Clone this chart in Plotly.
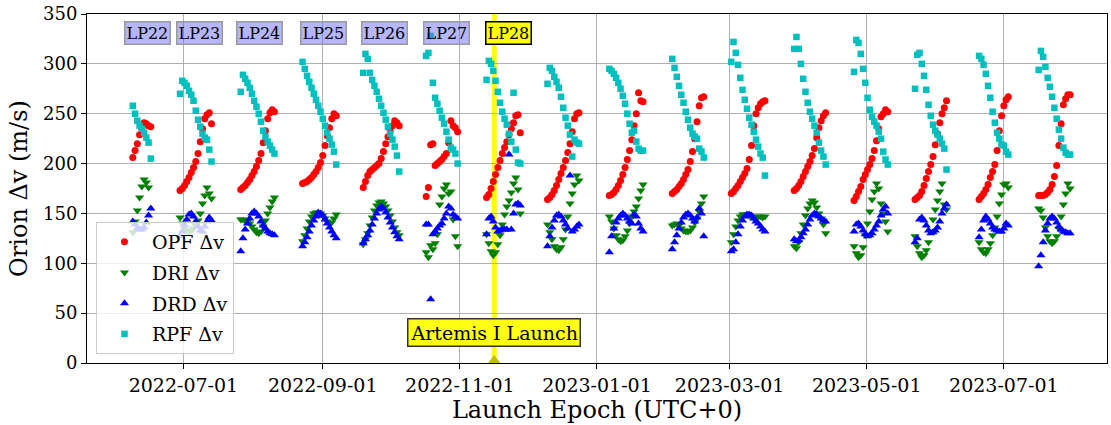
import pandas as pd
import plotly.graph_objects as go

# ---------------- data ----------------
# start epoch of each launch-period cluster (one epoch per day)
cluster_start = [
    "2022-06-08 12:00", "2022-06-29 12:00", "2022-07-26 12:00", "2022-08-23 00:00",
    "2022-09-19 00:00", "2022-10-17 00:00", "2022-11-12 21:00", "2022-12-10 00:00",
    "2023-01-06 12:00", "2023-02-03 12:00", "2023-03-01 18:00", "2023-03-29 18:00",
    "2023-04-25 09:00", "2023-05-22 12:00", "2023-06-20 00:00", "2023-07-16 12:00",
]

opf_dv = [
    [206, 213, 220, 229, 235, 241, 240, 238, 237],
    [173, 175, 178, 182, 186, 191, 196, 202, 210, 222, 235, 245, 249, 251, 240],
    [174, 176, 178, 181, 184, 188, 192, 197, 203, 210, 221, 233, 245, 251, 254, 252],
    [180, 181, 182, 184, 186, 189, 192, 196, 201, 208, 218, 228, 236, 245, 250, 248],
    [176, 182, 188, 192, 194, 196, 198, 200, 205, 212, 220, 227, 233, 238, 243, 241, 238],
    [167, 176, 219, 220, 198, 200, 202, 204, 207, 210, 221, 243, 238, 236, 232],
    [166, 169, 175, 182, 189, 196, 203, 210, 216, 222, 229, 235, 241, 248, 249, 231],
    [164, 166, 169, 173, 178, 184, 190, 196, 203, 211, 220, 232, 245, 250, 251],
    [168, 169, 171, 174, 178, 183, 189, 196, 204, 213, 224, 238, 250, 271, 263, 262],
    [170, 172, 174, 177, 180, 184, 189, 194, 202, 212, 225, 242, 258, 266, 267],
    [170, 172, 175, 178, 182, 186, 190, 195, 204, 218, 238, 250, 256, 260, 262, 263],
    [173, 175, 178, 182, 187, 192, 197, 202, 208, 215, 226, 236, 243, 248, 251],
    [163, 167, 172, 177, 184, 189, 194, 199, 205, 213, 223, 235, 247, 250, 254, 252],
    [164, 166, 168, 172, 178, 185, 192, 199, 207, 219, 230, 241, 250, 256, 263],
    [164, 167, 170, 174, 179, 186, 192, 199, 213, 233, 248, 258, 264, 267],
    [168, 168, 168, 169, 171, 174, 179, 187, 198, 218, 240, 259, 265, 269, 269],
]

dri_dv = [
    [131, 142, 153, 166, 177, 184, 181, 176, None],
    [146, 140, 136, 133, 132, 133, 135, 138, 143, 150, 160, 168, 176, 170, 165],
    [144, 144, 143, 142, 140, 137, 134, 131, 130, 132, 137, 143, 150, 156, 162, 166],
    [122, 128, 135, 142, 147, 150, 151, 151, 150, 148, 145, 142, 140, 141, 145, 149],
    [119, 124, 130, 138, 146, 153, 158, 161, 162, 160, 157, 153, 148, 142, 136, 131, 128],
    [111, 106, 118, 114, 120, 129, 159, 167, 175, 179, 170, 172, 144, 127, 117],
    [129, 120, 112, 108, 111, 119, 128, 139, 149, 157, 163, 171, 180, 186, 174, 150],
    [139, 131, 124, 117, 114, 113, 116, 124, 134, 147, 160, 170, 179, 188, 183],
    [147, 142, 135, 128, 124, 122, 123, 127, 133, 140, 147, 152, 157, 165, 173, 179],
    [138, 139, 140, 138, 135, 133, 132, 132, 133, 136, 141, 145, 152, 160, 167],
    [121, 129, 137, 143, 147, 149, 149, 149, 148, 147, 145, 146, 147, 147, 146, 147],
    [117, 115, 121, 130, 139, 148, 155, 160, 163, 161, 156, 150, 145, 139, 130],
    [117, 110, 106, 108, 116, 128, 140, 152, 164, 172, 180, 175, 160, 150, 142, 132],
    [127, 117, 110, 106, 108, 113, 121, 132, 144, 154, 163, 172, 180, 159, 154],
    [121, 114, 111, 110, 114, 120, 128, 136, 147, 160, 169, 179, 180, 176],
    [155, 153, 146, 136, 127, 122, 120, 122, 127, 135, 147, 159, 170, 180, 175],
]

drd_dv = [
    [142, 139, 135, 134, 134, 136, 141, 148, 155],
    [127, 132, 138, 144, 149, 150, 147, 142, 137, 133, 132, 137, 142, 146, 143],
    [112, 125, 134, 140, 145, 150, 152, 150, 147, 142, 138, 135, 132, 130, 129, 128],
    [117, 121, 126, 132, 138, 143, 147, 151, 150, 148, 144, 140, 136, 132, 128, 125],
    [120, 124, 128, 133, 139, 145, 150, 154, 157, 155, 151, 146, 141, 136, 131, 127, 124],
    [139, 139, 64, 129, 132, 135, 138, 140, 145, 150, 157, 155, 149, 147, 145],
    [129, 145, 147, 142, 136, 132, 133, 134, 134, 134, 209, 134, 150, 159, 160, 158],
    [117, 127, 136, 143, 148, 149, 147, 143, 139, 135, 188, 132, 134, 137, 139],
    [111, 127, 135, 141, 145, 148, 150, 148, 145, 142, 140, 149, 147, 140, 135, 132],
    [114, 121, 128, 135, 141, 146, 149, 150, 148, 145, 142, 146, 155, 150, 127],
    [112, 114, 121, 129, 137, 143, 147, 149, 149, 148, 145, 142, 140, 137, 134, 132],
    [124, 122, 123, 126, 130, 134, 139, 144, 148, 150, 149, 147, 145, 143, 142],
    [132, 139, 140, 137, 133, 129, 127, 128, 130, 134, 138, 142, 148, 154, 157, 150],
    [121, 125, 144, 146, 143, 138, 133, 130, 131, 133, 136, 142, 150, 155, 159],
    [126, 134, 143, 147, 144, 140, 136, 134, 133, 132, 132, 135, 140, 138],
    [97, 108, 121, 133, 140, 145, 147, 145, 141, 137, 134, 132, 131, 130, 130],
]

rpf_dv = [
    [258, 250, 243, 238, 235, 231, 226, 221, 205],
    [270, 283, 281, 278, 273, 269, 263, 253, 244, 237, 230, 226, 224, 214, 202],
    [272, 289, 285, 281, 276, 270, 263, 257, 250, 242, 233, 227, 222, 218, 214, 210],
    [302, 295, 288, 282, 276, 270, 264, 258, 252, 245, 238, 231, 225, 219, 212, 199],
    [291, 310, 305, 291, 284, 278, 272, 265, 258, 251, 244, 237, 230, 224, 217, 208, 192],
    [308, 311, 328, 281, 266, 260, 253, 246, 240, 232, 224, 216, 214, 210, 200],
    [284, 303, 300, 293, 283, 272, 261, 252, 245, 239, 230, 222, 271, 214, 201, 200],
    [280, 296, 293, 287, 282, 276, 267, 256, 246, 238, 229, 207, 224, 221, 220],
    [295, 293, 290, 286, 281, 275, 268, 260, 250, 240, 231, 233, 222, 215, 213, 213],
    [305, 296, 287, 278, 269, 261, 252, 244, 236, 230, 227, 225, 215, 212, 206],
    [302, 322, 311, 299, 286, 274, 264, 255, 246, 239, 232, 224, 217, 210, 206, 188],
    [315, 327, 315, 300, 285, 272, 261, 252, 245, 238, 231, 221, 213, 207, 199],
    [292, 324, 321, 310, 295, 281, 266, 254, 247, 242, 238, 232, 225, 212, 204, 199],
    [275, 309, 311, 300, 288, 274, 259, 248, 239, 233, 229, 225, 220, 215, 194],
    [308, 305, 299, 290, 278, 266, 252, 241, 231, 225, 219, 218, 212, 209],
    [294, 313, 307, 297, 286, 277, 267, 256, 245, 234, 225, 216, 211, 209, 209],
]

lp_names = ["LP22", "LP23", "LP24", "LP25", "LP26", "LP27", "LP28"]
lp_dates = ["2022-06-15 05:00", "2022-07-08 07:00", "2022-08-04 00:00", "2022-09-01 10:00",
            "2022-09-28 14:00", "2022-10-26 00:00", "2022-11-22 10:00"]
launch_date = "2022-11-16 06:47"
launch_label = "Artemis I Launch"

x_ticks = ["2022-07-01", "2022-09-01", "2022-11-01", "2023-01-01",
           "2023-03-01", "2023-05-01", "2023-07-01"]
y_ticks = [0, 50, 100, 150, 200, 250, 300, 350]


def flatten(series):
    xs, ys = [], []
    for start, vals in zip(cluster_start, series):
        t0 = pd.Timestamp(start)
        for i, v in enumerate(vals):
            if v is None:
                continue
            xs.append(t0 + pd.Timedelta(days=i))
            ys.append(v)
    return xs, ys


FONT = "DejaVu Serif"
fig = go.Figure()

fig.add_shape(type="line", xref="x", yref="paper", x0=launch_date, x1=launch_date,
              y0=0, y1=1, line=dict(color="#ffff00", width=5), layer="below")

specs = [
    ("OPF Δv", opf_dv, "circle", "#ff0000", 7),
    ("DRI Δv", dri_dv, "triangle-down", "#008000", 8),
    ("DRD Δv", drd_dv, "triangle-up", "#0000ff", 8),
    ("RPF Δv", rpf_dv, "square", "#00bfbf", 6.5),
]
for name, series, sym, col, sz in specs:
    xs, ys = flatten(series)
    fig.add_trace(go.Scatter(x=xs, y=ys, mode="markers", name=name, legendgroup=name,
                             marker=dict(symbol=sym, color=col, size=sz, line=dict(width=0))))

fig.add_trace(go.Scatter(x=[launch_date], y=[0], mode="markers", showlegend=False,
                         cliponaxis=True, hoverinfo="skip",
                         marker=dict(symbol="triangle-up", color="#bfbf00", size=16)))

for name, d in zip(lp_names, lp_dates):
    is_launch = name == "LP28"
    fig.add_annotation(x=d, y=331, xref="x", yref="y", text=name, showarrow=False,
                       font=dict(family=FONT, size=16, color="black"),
                       bgcolor="#ffff00" if is_launch else "rgba(110,110,250,0.5)",
                       bordercolor="black" if is_launch else "#9a9a9a",
                       borderwidth=1.5, borderpad=1)

fig.add_annotation(x=launch_date, y=31, xref="x", yref="y", text=launch_label,
                   showarrow=False, font=dict(family=FONT, size=19, color="black"),
                   bgcolor="rgba(255,255,0,0.92)", bordercolor="#333333",
                   borderwidth=1.5, borderpad=2)

axis_common = dict(showgrid=True, gridcolor="#b0b0b0", gridwidth=1, showline=True,
                   linecolor="black", linewidth=1, mirror=True, ticks="outside",
                   ticklen=5, tickcolor="black", zeroline=False)

fig.update_layout(
    width=1111, height=425,
    margin=dict(l=87, r=3, t=11, b=62),
    paper_bgcolor="white", plot_bgcolor="white",
    font=dict(family=FONT, size=19, color="black"),
    xaxis=dict(type="date", range=["2022-05-19 02:40", "2023-08-15 21:50"],
               tickvals=x_ticks, ticktext=x_ticks,
               tickfont=dict(family=FONT, size=19, color="black"),
               title=dict(text="Launch Epoch (UTC+0)", font=dict(family=FONT, size=24),
                          standoff=2),
               **axis_common),
    yaxis=dict(range=[0, 350], tickvals=y_ticks,
               tickfont=dict(family=FONT, size=18, color="black"),
               title=dict(text="Orion Δv (m/s)", font=dict(family=FONT, size=24),
                          standoff=8),
               **axis_common),
    legend=dict(x=0.0088, y=0.026, xanchor="left", yanchor="bottom",
                bgcolor="rgba(255,255,255,0.8)", bordercolor="#cccccc", borderwidth=1,
                font=dict(family=FONT, size=19, color="black"), tracegroupgap=3,
                itemwidth=45),
    showlegend=True,
)

fig.write_html("out.html")
